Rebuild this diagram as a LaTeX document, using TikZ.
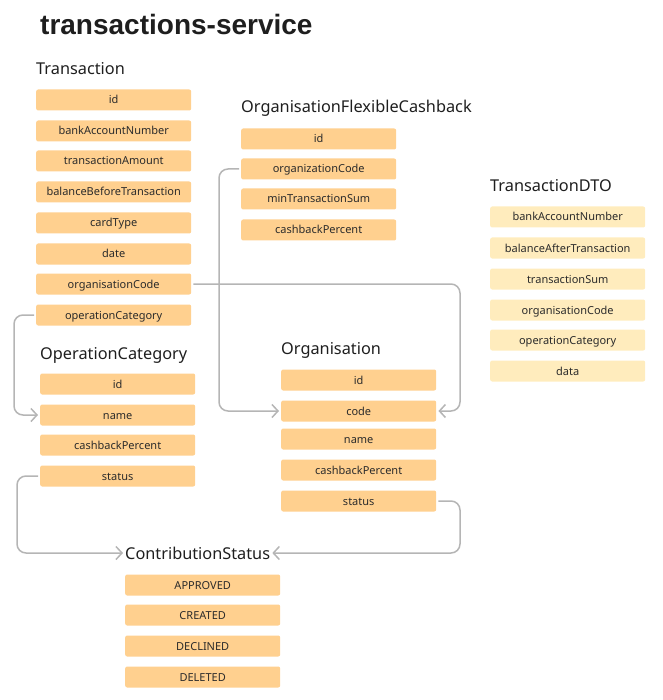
\documentclass[tikz,border=0pt]{standalone}
\usepackage{fontspec}
\setmainfont{Noto Sans}
\newfontfamily\titlefont{Liberation Sans}
\usepackage{xcolor}
\usetikzlibrary{positioning,arrows.meta}

\definecolor{fieldorange}{HTML}{FFD08F}
\definecolor{dtoyellow}{HTML}{FFECBD}
\definecolor{linkgray}{HTML}{B5B5B5}
\definecolor{inkdark}{HTML}{1E1E1E}
\definecolor{fieldtext}{HTML}{2B2B2B}

\tikzset{
  field/.style={fill=fieldorange, rounded corners=2pt, anchor=west,
    minimum width=155pt, minimum height=21pt, inner sep=0pt,
    text height=8pt, text depth=0pt,
    text=fieldtext, font=\fontsize{11}{13}\selectfont},
  dtofield/.style={field, fill=dtoyellow},
  entity/.style={anchor=base west, inner sep=0pt, text=inkdark,
    font=\fontsize{16.3}{19}\selectfont},
  link/.style={draw=linkgray, line width=1.5pt, rounded corners=9pt,
    shorten <=2pt, shorten >=2pt,
    -{Straight Barb[length=6pt,width=13pt]}},
}

\begin{document}
\begin{tikzpicture}[x=1pt, y=-1pt]
  \useasboundingbox (0,0) rectangle (662,700);

  % Title
  \node[anchor=base west, inner sep=0pt, text=inkdark,
    font=\titlefont\fontsize{28}{32}\selectfont\bfseries] (title) at (40,35)
    {transactions-service};

  % Transaction
  \node[entity] (tTitle) at (36,75) {Transaction};
  \node[field] (tId)       at (36,100) {id};
  \node[field] (tBank)     at (36,131) {bankAccountNumber};
  \node[field] (tAmount)   at (36,161) {transactionAmount};
  \node[field] (tBalance)  at (36,192) {balanceBeforeTransaction};
  \node[field] (tCard)     at (36,223) {cardType};
  \node[field] (tDate)     at (36,254) {date};
  \node[field] (tOrgCode)  at (36,284) {organisationCode};
  \node[field] (tOpCat)    at (36,315) {operationCategory};

  % OperationCategory
  \node[entity] (ocTitle) at (40,359) {OperationCategory};
  \node[field] (ocId)       at (40,384) {id};
  \node[field] (ocName)     at (40,415) {name};
  \node[field] (ocCashback) at (40,445) {cashbackPercent};
  \node[field] (ocStatus)   at (40,476) {status};

  % OrganisationFlexibleCashback
  \node[entity] (fcTitle) at (241,113) {OrganisationFlexibleCashback};
  \node[field] (fcId)       at (241,139) {id};
  \node[field] (fcOrgCode)  at (241,169) {organizationCode};
  \node[field] (fcMinSum)   at (241,199) {minTransactionSum};
  \node[field] (fcCashback) at (241,230) {cashbackPercent};

  % TransactionDTO
  \node[entity] (dtoTitle) at (490,192) {TransactionDTO};
  \node[dtofield] (dtoBank)    at (490,217) {bankAccountNumber};
  \node[dtofield] (dtoBalance) at (490,248) {balanceAfterTransaction};
  \node[dtofield] (dtoSum)     at (490,279) {transactionSum};
  \node[dtofield] (dtoOrgCode) at (490,310) {organisationCode};
  \node[dtofield] (dtoOpCat)   at (490,340) {operationCategory};
  \node[dtofield] (dtoData)    at (490,371) {data};

  % Organisation
  \node[entity] (orgTitle) at (281,354) {Organisation};
  \node[field] (orgId)       at (281,380) {id};
  \node[field] (orgCode)     at (281,411) {code};
  \node[field] (orgName)     at (281,439) {name};
  \node[field] (orgCashback) at (281,470) {cashbackPercent};
  \node[field] (orgStatus)   at (281,501) {status};

  % ContributionStatus
  \node[entity] (csTitle) at (125,559) {ContributionStatus};
  \node[field] (csApproved) at (125,585) {APPROVED};
  \node[field] (csCreated)  at (125,615) {CREATED};
  \node[field] (csDeclined) at (125,646) {DECLINED};
  \node[field] (csDeleted)  at (125,677) {DELETED};

  % Links
  \coordinate (leftBus)  at (14,0);
  \coordinate (midBus)   at (219,0);
  \coordinate (rightBus) at (460,0);
  \coordinate (lowBus)   at (17,0);
  \coordinate (csIn)     at (125,553);

  \draw[link] (tOpCat.west) -| (leftBus |- ocName.west) -- (ocName.west);
  \draw[link] (tOrgCode.east) -| (rightBus |- orgCode.east) -- (orgCode.east);
  \draw[link] (fcOrgCode.west) -| (midBus |- orgCode.west) -- (orgCode.west);
  \draw[link] (ocStatus.west) -| (lowBus |- csIn) -- (csIn);
  \draw[link] (orgStatus.east) -| (rightBus |- csIn) -- (csIn -| csTitle.east);
\end{tikzpicture}
\end{document}
